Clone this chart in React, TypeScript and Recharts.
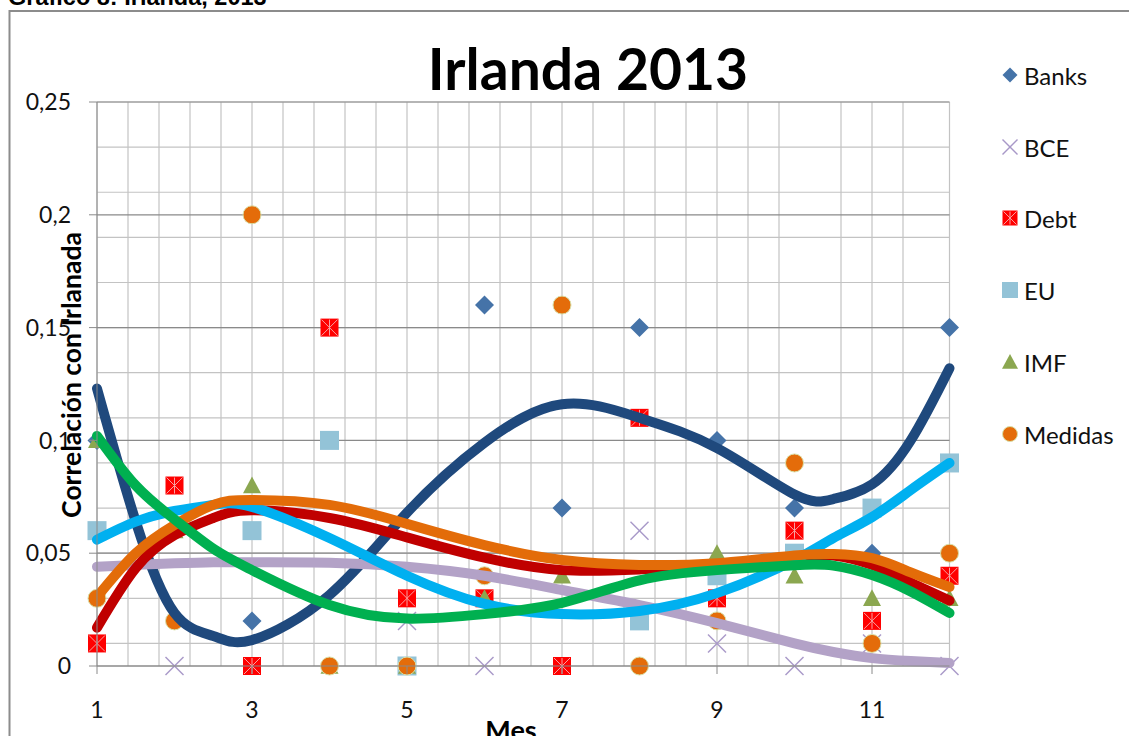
import React from "react";
import { ComposedChart, Scatter, Line, XAxis, YAxis, CartesianGrid } from "recharts";

// ---- categories / ticks ----
const MONTHS = [1, 2, 3, 4, 5, 6, 7, 8, 9, 10, 11, 12];
const X_TICKS = [1, 3, 5, 7, 9, 11];
const Y_TICKS = [0, 0.05, 0.1, 0.15, 0.2, 0.25];
const Y_MINOR = [0, 0.01, 0.02, 0.03, 0.04, 0.05, 0.06, 0.07, 0.08, 0.09, 0.1, 0.11, 0.12, 0.13, 0.14, 0.15, 0.16, 0.17, 0.18, 0.19, 0.2, 0.21, 0.22, 0.23, 0.24, 0.25];
const X_MINOR = [1, 1.4, 1.8, 2.2, 2.6, 3, 3.4, 3.8, 4.2, 4.6, 5, 5.4, 5.8, 6.2, 6.6, 7, 7.4, 7.8, 8.2, 8.6, 9, 9.4, 9.8, 10.2, 10.6, 11, 11.4, 11.8, 12];

// ---- scatter values (null = not visible in the picture) ----
const banks = [0.1, null, 0.02, null, null, 0.16, 0.07, 0.15, 0.1, 0.07, 0.05, 0.15];
const bce = [null, 0, null, null, 0.02, 0, null, 0.06, 0.01, 0, 0.01, 0];
const debt = [0.01, 0.08, 0, 0.15, 0.03, 0.03, 0, 0.11, 0.03, 0.06, 0.02, 0.04];
const eu = [0.06, null, 0.06, 0.1, 0, null, null, 0.02, 0.04, 0.05, 0.07, 0.09];
const imf = [0.1, 0.06, 0.08, 0, 0, 0.03, 0.04, null, 0.05, 0.04, 0.03, 0.03];
const medidas = [0.03, 0.02, 0.2, 0, 0, 0.04, 0.16, 0, 0.02, 0.09, 0.01, 0.05];

// ---- trendline values ----
const TREND_X = [1, 1.5, 2, 2.5, 3, 4, 5, 6, 7, 8, 9, 10, 10.5, 11, 11.5, 12];
const banksTrend = [0.123, 0.064, 0.0235, 0.0133, 0.0115, 0.0315, 0.068, 0.099, 0.116, 0.11, 0.0966, 0.076, 0.074, 0.0805, 0.1, 0.132];
const bceTrend = [0.044, 0.0448, 0.0455, 0.046, 0.046, 0.0458, 0.044, 0.04, 0.0337, 0.027, 0.019, 0.01, 0.0062, 0.0035, 0.0022, 0.0013];
const debtTrend = [0.017, 0.0434, 0.058, 0.0656, 0.069, 0.0656, 0.057, 0.048, 0.0425, 0.0428, 0.0448, 0.0482, 0.049, 0.0448, 0.037, 0.029];
const euTrend = [0.056, 0.064, 0.0687, 0.0714, 0.0705, 0.0567, 0.04, 0.0275, 0.023, 0.0244, 0.0323, 0.047, 0.0567, 0.066, 0.078, 0.09];
const imfTrend = [0.102, 0.08, 0.065, 0.052, 0.0425, 0.027, 0.021, 0.023, 0.028, 0.038, 0.0425, 0.0447, 0.0445, 0.0403, 0.033, 0.0235];
const medidasTrend = [0.0306, 0.05, 0.0625, 0.0714, 0.0736, 0.0714, 0.063, 0.0536, 0.047, 0.0448, 0.0456, 0.049, 0.0496, 0.0478, 0.0415, 0.035];

const toPoints = (vals: (number | null)[]) =>
  MONTHS.map((m, i) => ({ x: m, y: vals[i] })).filter((d) => d.y !== null);
const toTrend = (vals: number[]) => TREND_X.map((x, i) => ({ x, y: vals[i] }));

const FONT = "Lato, 'Open Sans', sans-serif";

// ---- marker shapes ----
const Diamond = ({ cx, cy, s = 19 }: any) => {
  const h = s / 2;
  return <polygon points={`${cx},${cy - h} ${cx + h},${cy} ${cx},${cy + h} ${cx - h},${cy}`} fill="#4573A8" />;
};
const Cross = ({ cx, cy, s = 18 }: any) => {
  const h = s / 2;
  return (
    <g stroke="#A898C8" strokeWidth={1.4}>
      <line x1={cx - h} y1={cy - h} x2={cx + h} y2={cy + h} />
      <line x1={cx - h} y1={cy + h} x2={cx + h} y2={cy - h} />
    </g>
  );
};
const DebtMark = ({ cx, cy, s = 18 }: any) => {
  const h = s / 2;
  return (
    <g>
      <rect x={cx - h} y={cy - h} width={s} height={s} fill="#FF0000" />
      <g stroke="#F7A0A0" strokeWidth={1}>
        <line x1={cx - h + 1} y1={cy - h + 1} x2={cx + h - 1} y2={cy + h - 1} />
        <line x1={cx - h + 1} y1={cy + h - 1} x2={cx + h - 1} y2={cy - h + 1} />
        <line x1={cx} y1={cy - h + 1} x2={cx} y2={cy + h - 1} />
      </g>
    </g>
  );
};
const Square = ({ cx, cy, s = 19 }: any) => {
  const h = s / 2;
  return <rect x={cx - h} y={cy - h} width={s} height={s} fill="#93C3D7" />;
};
const Triangle = ({ cx, cy, s = 18 }: any) => {
  const h = s / 2;
  return <polygon points={`${cx},${cy - h} ${cx + h},${cy + h * 0.85} ${cx - h},${cy + h * 0.85}`} fill="#8BA750" />;
};
const Circle = ({ cx, cy, s = 18 }: any) => (
  <circle cx={cx} cy={cy} r={s / 2} fill="#E46C0A" stroke="#D9DFA8" strokeWidth={1} />
);

const LEGEND = [
  { name: "Banks", Shape: Diamond, s: 15 },
  { name: "BCE", Shape: Cross, s: 15 },
  { name: "Debt", Shape: DebtMark, s: 15 },
  { name: "EU", Shape: Square, s: 16 },
  { name: "IMF", Shape: Triangle, s: 16 },
  { name: "Medidas", Shape: Circle, s: 15 },
];
const LEGEND_Y = [75, 147, 218, 290, 362, 434];

const fmtY = (v: number) => (v === 0 ? "0" : String(v).replace(".", ","));

export default function App() {
  const tickStyle = { fontFamily: FONT, fontSize: 23, fill: "#111" };
  const trendCommon = {
    type: "natural" as const,
    dataKey: "y",
    dot: false,
    activeDot: false,
    isAnimationActive: false,
    strokeWidth: 10,
    strokeLinecap: "round" as const,
    legendType: "none" as const,
  };
  return (
    <div style={{ position: "absolute", left: 0, top: 0, width: 1129, height: 736, background: "#fff", overflow: "hidden" }}>
      <div style={{ position: "absolute", left: 0, top: 0 }}>
        <ComposedChart width={1129} height={736} margin={{ top: 102, right: 179.5, bottom: 30, left: 37 }}>
          <CartesianGrid horizontalValues={Y_MINOR} verticalValues={X_MINOR} stroke="#C3C3C3" strokeWidth={1.2} />
          <CartesianGrid horizontalValues={Y_TICKS} vertical={false} stroke="#8A8A8A" strokeWidth={1.2} />
          <XAxis
            type="number"
            dataKey="x"
            domain={[1, 12]}
            ticks={X_TICKS}
            height={40}
            tickSize={8}
            tickMargin={28}
            stroke="#8A8A8A"
            tick={tickStyle}
          />
          <YAxis
            type="number"
            dataKey="y"
            domain={[0, 0.25]}
            ticks={Y_TICKS}
            width={60}
            tickSize={8}
            tickMargin={18}
            stroke="#8A8A8A"
            tick={tickStyle}
            tickFormatter={fmtY}
          />
          <Scatter name="Banks" data={toPoints(banks)} isAnimationActive={false} shape={(p: any) => <Diamond cx={p.cx} cy={p.cy} />} zIndex={300} />
          <Scatter name="BCE" data={toPoints(bce)} isAnimationActive={false} shape={(p: any) => <Cross cx={p.cx} cy={p.cy} />} zIndex={301} />
          <Scatter name="Debt" data={toPoints(debt)} isAnimationActive={false} shape={(p: any) => <DebtMark cx={p.cx} cy={p.cy} />} zIndex={302} />
          <Scatter name="EU" data={toPoints(eu)} isAnimationActive={false} shape={(p: any) => <Square cx={p.cx} cy={p.cy} />} zIndex={303} />
          <Scatter name="IMF" data={toPoints(imf)} isAnimationActive={false} shape={(p: any) => <Triangle cx={p.cx} cy={p.cy} />} zIndex={304} />
          <Scatter name="Medidas" data={toPoints(medidas)} isAnimationActive={false} shape={(p: any) => <Circle cx={p.cx} cy={p.cy} />} zIndex={305} />
          <Line {...trendCommon} data={toTrend(banksTrend)} stroke="#1F497D" zIndex={410} />
          <Line {...trendCommon} data={toTrend(bceTrend)} stroke="#B3A2C7" zIndex={411} />
          <Line {...trendCommon} data={toTrend(debtTrend)} stroke="#C00000" zIndex={412} />
          <Line {...trendCommon} data={toTrend(euTrend)} stroke="#00B0F0" zIndex={413} />
          <Line {...trendCommon} data={toTrend(medidasTrend)} stroke="#E36C09" zIndex={414} />
          <Line {...trendCommon} data={toTrend(imfTrend)} stroke="#00B050" zIndex={415} />
        </ComposedChart>
      </div>
      <svg width={1129} height={736} style={{ position: "absolute", left: 0, top: 0, pointerEvents: "none" }}>
        <rect x={9.5} y={11} width={2000} height={2000} fill="none" stroke="#8C8C8C" strokeWidth={2} />
        <text x={8} y={5} fontFamily="'Liberation Sans', Arial, sans-serif" fontWeight="bold" fontSize={23.5} fill="#000">
          Gráfico 8: Irlanda, 2013
        </text>
        <text x={588} y={90} textAnchor="middle" fontFamily={FONT} fontWeight="bold" fontSize={57} fill="#000">
          Irlanda 2013
        </text>
        <text
          x={71}
          y={375}
          transform="rotate(-90, 71, 375)"
          textAnchor="middle"
          dominantBaseline="central"
          fontFamily={FONT}
          fontWeight="bold"
          fontSize={26.5}
          fill="#000"
        >
          Correlación con Irlanada
        </text>
        <text x={511} y={740} textAnchor="middle" fontFamily={FONT} fontWeight="bold" fontSize={27} fill="#000">
          Mes
        </text>
        {LEGEND.map((l, i) => (
          <g key={l.name}>
            <l.Shape cx={1010} cy={LEGEND_Y[i]} s={l.s} />
            <text x={1024} y={LEGEND_Y[i]} dominantBaseline="central" fontFamily={FONT} fontSize={24} fill="#111">
              {l.name}
            </text>
          </g>
        ))}
      </svg>
    </div>
  );
}
